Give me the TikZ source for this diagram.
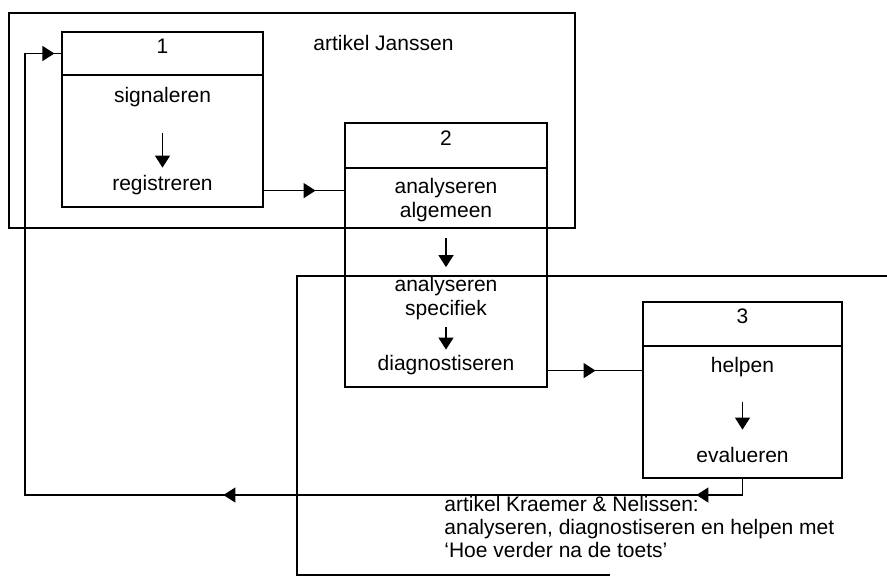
\documentclass[tikz,border=0pt]{standalone}
\usepackage{fontspec}
\setmainfont{Liberation Sans}
\usetikzlibrary{arrows.meta,fit,decorations.markings}

\begin{document}
\begin{tikzpicture}[
    x=0.5pt, y=-0.5pt,
    >={Triangle[length=6pt,width=7.5pt]},
    every node/.style={font=\fontsize{10.5}{12}\selectfont},
    kader/.style={draw, line width=0.6pt, inner sep=0pt},
    blok/.style={draw, line width=0.6pt, inner sep=0pt},
    woord/.style={inner sep=0pt, text height=7.6pt, text depth=2.2pt},
    regels/.style={inner sep=0pt, align=center},
    lijn/.style={line width=0.6pt},
    pijl/.style={line width=0.6pt, ->},
    midpijl/.style={line width=0.6pt, postaction={decorate},
        decoration={markings, mark=at position #1 with {\arrow{>}}}}
]
\useasboundingbox (0,0) rectangle (887,579);

% artikel Janssen
\node[kader, fit={(9,13) (575,228)}] (janssen) {};
\node[anchor=base west, inner sep=0pt] (tjanssen) at (313,50) {artikel Janssen};

% artikel Kraemer & Nelissen
\draw[lijn] (887,276) -- (297,276) -- (297,575) -- (610,575);
\node[anchor=north west, inner sep=0pt, align=left, font=\fontsize{10.5}{11.5}\selectfont] (tkraemer) at (444,496)
    {artikel Kraemer \& Nelissen:\\analyseren, diagnostiseren en helpen met\\`Hoe verder na de toets'};

% blok 1
\node[blok, fit={(62,32) (263,207)}] (b1) {};
\node[blok, fit={(62,32) (263,75)}] (k1) {1};
\node[woord] (sig) at (162.5,97) {signaleren};
\node[woord] (reg) at (162.5,185.2) {registreren};
\draw[pijl, shorten <=13pt, shorten >=3.7pt] (sig) -- (reg);

% blok 2
\node[blok, fit={(345,123) (547,387)}] (b2) {};
\node[blok, fit={(345,123) (547,168)}] (k2) {2};
\node[regels] (alg) at (446,200.2) {analyseren\\algemeen};
\node[regels] (spec) at (446,297.7) {analyseren\\specifiek};
\node[woord] (diag) at (446,365.2) {diagnostiseren};
\draw[pijl, shorten <=8pt, shorten >=4.2pt] (alg) -- (spec);
\draw[pijl, shorten <=3.5pt, shorten >=2.7pt] (spec) -- (diag);

% blok 3
\node[blok, fit={(643,302) (842,478)}] (b3) {};
\node[blok, fit={(643,302) (842,346)}] (k3) {3};
\node[woord] (help) at (742.5,367.2) {helpen};
\node[woord] (eval) at (742.5,456.6) {evalueren};
\draw[pijl, shorten <=12.5pt, shorten >=8.4pt] (help) -- (eval);

% verbindingen
\draw[midpijl=26pt] (reg.base -| b1.east) -- (reg.base -| b2.west);
\draw[midpijl=24pt] (diag.base -| b2.east) -- (diag.base -| b3.west);
\coordinate (terug) at (25,495);
\draw[lijn, postaction={decorate}, decoration={markings,
        mark=at position 31.25pt with {\arrow{>}},
        mark=at position 267.75pt with {\arrow{>}},
        mark=at position -3.5pt with {\arrow{>}}}]
    (b3.south) |- (terug) |- (k1.west);
\end{tikzpicture}
\end{document}
